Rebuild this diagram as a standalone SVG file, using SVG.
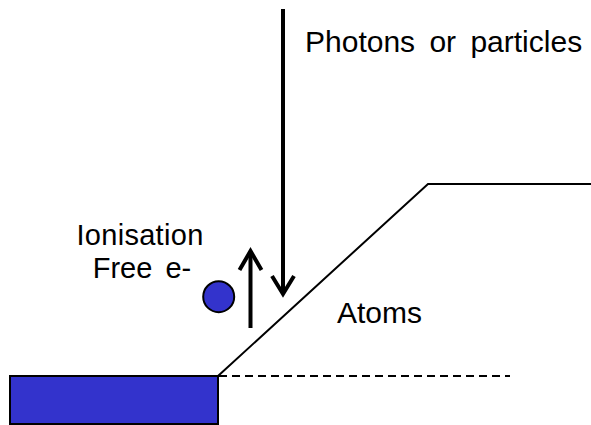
<svg xmlns="http://www.w3.org/2000/svg" width="591" height="425" viewBox="0 0 591 425">
<style>
text{font-family:"Liberation Sans",Arial,sans-serif;font-size:30px;fill:#000}
.sm{font-size:29px}
.ln{stroke:#000;fill:none}
.blue{fill:#3333CC;stroke:#000;stroke-width:2}
</style>
<rect width="591" height="425" fill="#fff"/>
<g id="connectors">
<path class="ln" stroke-width="2" d="M218,376 L428,184 L591,184"/>
<path class="ln" stroke-width="2" stroke-dasharray="8,5" d="M219,376 L510,376"/>
<g id="down-arrow">
<path class="ln" stroke-width="4" d="M283,9 L283,294"/>
<path class="ln" stroke-width="4" d="M272,276 L283,294 L294,276"/>
</g>
<g id="up-arrow">
<path class="ln" stroke-width="4" d="M250.5,328 L250.5,251"/>
<path class="ln" stroke-width="4" d="M239.5,270 L250.5,251 L261.5,270"/>
</g>
</g>
<g id="substrate"><rect class="blue" x="10" y="376" width="208" height="48"/></g>
<g id="electron"><circle class="blue" cx="218.7" cy="296.7" r="15.5"/></g>
<g id="label-photons"><text x="305" y="52" word-spacing="6">Photons or particles</text></g>
<g id="label-ionisation"><text class="sm" x="140" y="245" text-anchor="middle" letter-spacing="0.3">Ionisation</text></g>
<g id="label-free"><text class="sm" x="142" y="278" text-anchor="middle" word-spacing="5">Free e-</text></g>
<g id="label-atoms"><text x="337" y="323">Atoms</text></g>
</svg>
